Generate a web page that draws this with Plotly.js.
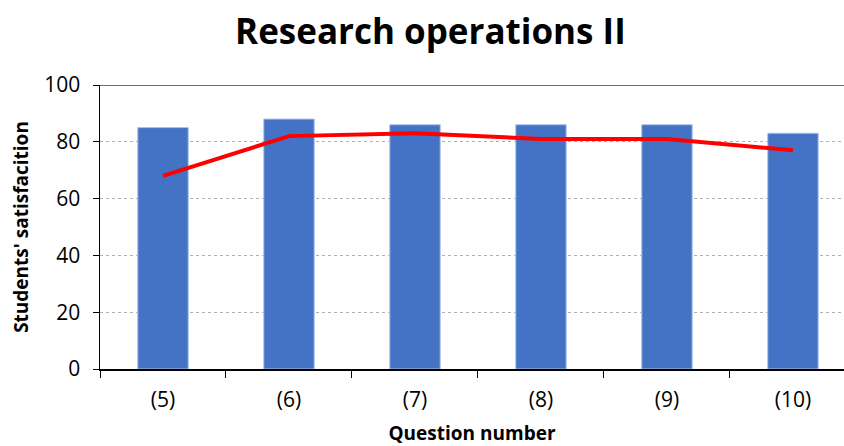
<!DOCTYPE html>
<html>
<head>
<meta charset="utf-8">
<script src="https://cdn.plot.ly/plotly-3.0.1.min.js"></script>
<style>html,body{margin:0;padding:0;overflow:hidden;background:#fff;}</style>
</head>
<body>
<div id="chart" style="width:844px;height:446px;"></div>
<script>
const categories = ["(5)", "(6)", "(7)", "(8)", "(9)", "(10)"];
const barValues = [85, 88, 86, 86, 86, 83];
const lineValues = [68, 82, 83, 81, 81, 77];
const yTicks = [0, 20, 40, 60, 80, 100];

const font = "'Open Sans', sans-serif";

const traces = [
  {
    type: "bar",
    x: categories,
    y: barValues,
    marker: { color: "#4472C4", line: { color: "#A9C0E8", width: 1 } },
    hoverinfo: "x+y"
  },
  {
    type: "scatter",
    mode: "lines",
    x: categories,
    y: lineValues,
    line: { color: "#FF0000", width: 4 },
    hoverinfo: "x+y"
  }
];

const layout = {
  width: 844,
  height: 446,
  margin: { l: 100, r: 0, t: 85, b: 77 },
  paper_bgcolor: "#fff",
  plot_bgcolor: "#fff",
  showlegend: false,
  bargap: 0.6,
  font: { family: font, color: "#000" },
  title: {
    text: "<b>Research operations II</b>",
    font: { family: font, size: 35, color: "#000" },
    x: 0.51, xanchor: "center",
    y: 0.928, yref: "container", yanchor: "middle"
  },
  xaxis: {
    type: "category",
    range: [-0.5, 5.405],
    tickson: "boundaries",
    ticks: "outside",
    ticklen: 7,
    tickcolor: "#000",
    showline: true,
    linecolor: "#000",
    linewidth: 1.5,
    showgrid: false,
    automargin: false,
    ticklabelstandoff: 11,
    tickfont: { family: font, size: 21, color: "#000" },
    title: { text: "<b>Question number</b>", font: { family: font, size: 19, color: "#000" }, standoff: 20 }
  },
  yaxis: {
    range: [0, 100],
    tickvals: yTicks,
    ticks: "outside",
    ticklen: 6,
    tickcolor: "#000",
    showline: true,
    linecolor: "#000",
    linewidth: 1.5,
    showgrid: true,
    gridcolor: "#B0B0B0",
    griddash: "3px,3px",
    gridwidth: 1,
    zeroline: false,
    automargin: false,
    ticklabelstandoff: 8,
    tickfont: { family: font, size: 21, color: "#000" },
    title: { text: "<b>Students' satisfacition</b>", font: { family: font, size: 19, color: "#000" }, standoff: 10 }
  },
  shapes: [
    { type: "line", xref: "paper", yref: "y", x0: 0, x1: 1, y0: 100, y1: 100, line: { color: "#404040", width: 1.5 } }
  ]
};

Plotly.newPlot("chart", traces, layout, { displayModeBar: false, staticPlot: true });
</script>
</body>
</html>
